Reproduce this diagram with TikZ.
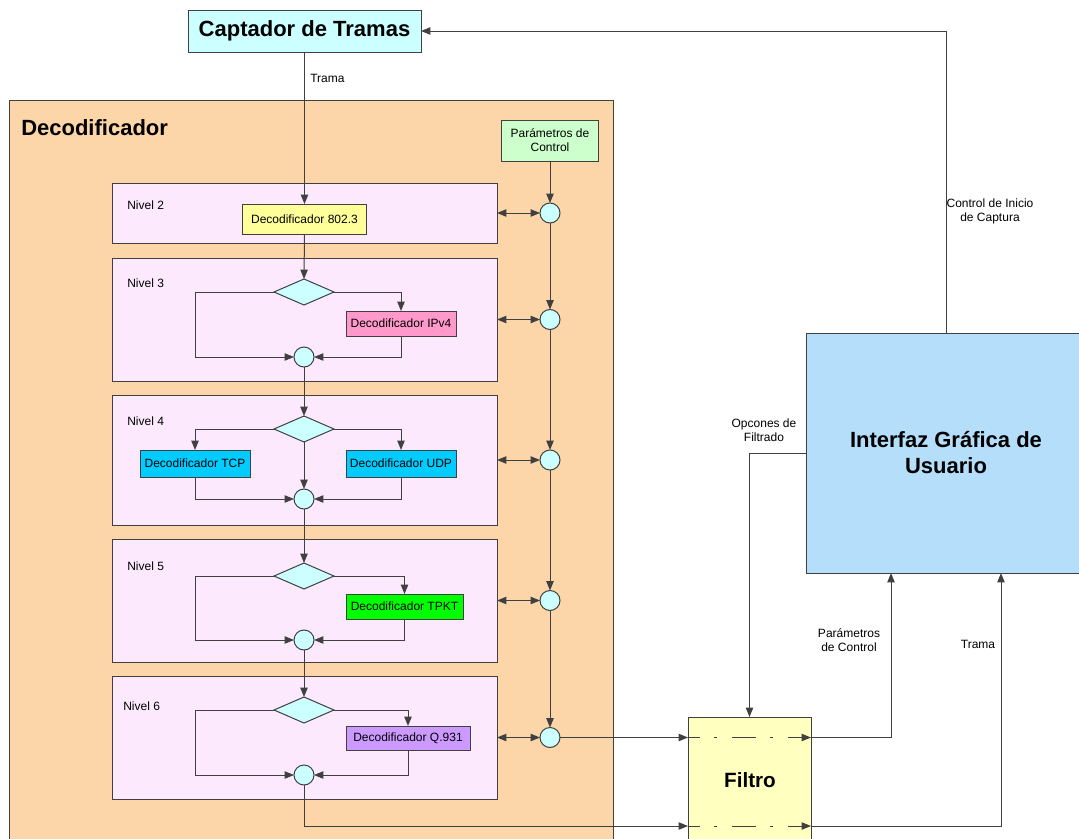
\documentclass[tikz,border=0pt]{standalone}
\usepackage{fontspec}
\setmainfont{Liberation Sans}
\usetikzlibrary{shapes.geometric,arrows.meta}
\definecolor{lc}{RGB}{64,64,64}
\definecolor{cyanl}{RGB}{204,255,255}
\definecolor{peach}{RGB}{252,213,169}
\definecolor{greenl}{RGB}{204,255,204}
\definecolor{lvlc}{RGB}{253,233,253}
\definecolor{yell}{RGB}{255,255,153}
\definecolor{pinkd}{RGB}{255,153,204}
\definecolor{bluec}{RGB}{0,204,255}
\definecolor{greenc}{RGB}{0,255,0}
\definecolor{purp}{RGB}{204,153,255}
\definecolor{filtc}{RGB}{255,255,192}
\definecolor{guic}{RGB}{181,222,250}
\tikzset{
  px/.style 2 args={minimum width=#1*0.75pt, minimum height=#2*0.75pt},
  blk/.style={draw=lc, line width=0.75pt, inner sep=0pt, outer sep=0pt},
  lvl/.style={blk, fill=lvlc},
  decb/.style={blk, font=\fontsize{9}{10.5}\selectfont},
  junc/.style={circle, draw=lc, line width=0.75pt, fill=cyanl, minimum size=15pt, inner sep=0pt, outer sep=0pt},
  dia/.style={diamond, draw=lc, line width=0.75pt, fill=cyanl, minimum width=45pt, minimum height=19.5pt, inner sep=0pt, outer sep=0pt},
  con/.style={draw=lc, line width=0.75pt},
  arr/.style={con, -{Triangle[length=7pt,width=5.5pt]}},
  darr/.style={con, {Triangle[length=7pt,width=5.5pt]}-{Triangle[length=7pt,width=5.5pt]}},
  dd/.style={arr, dash pattern=on 18pt off 10.5pt on 2.25pt off 11.25pt, dash phase=9pt},
  lbl/.style={font=\fontsize{9}{10.5}\selectfont, align=center, inner sep=0pt},
  big/.style={font=\fontsize{16.5}{19.5}\selectfont\bfseries, align=center},
}
\begin{document}
\begin{tikzpicture}[x=0.75pt,y=-0.75pt]
\useasboundingbox (0,0) rectangle (1079,839);
% containers
\node[blk, fill=peach, px={604}{750}] (outer) at (311,475) {};
\node[big, anchor=west, inner sep=0pt] (outerlbl) at (21,128) {Decodificador};
\node[blk, fill=cyanl, px={233}{42}, big] (cap) at (304.5,31) {Captador de Tramas};
\node[blk, fill=greenl, px={97}{41}, lbl] (param) at (550,140.5) {Parámetros de\\Control};
% levels
\node[lvl, px={385}{60}] (n2) at (304.5,213) {};
\node[lvl, px={385}{123}] (n3) at (304.5,319.5) {};
\node[lvl, px={385}{130}] (n4) at (304.5,460) {};
\node[lvl, px={385}{123}] (n5) at (304.5,600.5) {};
\node[lvl, px={385}{123}] (n6) at (304.5,737.5) {};
\node[lbl, anchor=west] (n2l) at (127,205) {Nivel 2};
\node[lbl, anchor=west] (n3l) at (127,283) {Nivel 3};
\node[lbl, anchor=west] (n4l) at (127,421) {Nivel 4};
\node[lbl, anchor=west] (n5l) at (127,566) {Nivel 5};
\node[lbl, anchor=west] (n6l) at (123,706) {Nivel 6};
% decoders
\node[decb, fill=yell, px={124}{30}] (d8023) at (304.5,219) {Decodificador 802.3};
\node[decb, fill=pinkd, px={110}{25}] (ipv4) at (401,323.5) {Decodificador IPv4};
\node[decb, fill=bluec, px={110}{27}] (tcp) at (195,463.5) {Decodificador TCP};
\node[decb, fill=bluec, px={110}{27}] (udp) at (401,463.5) {Decodificador UDP};
\node[decb, fill=greenc, px={117}{25}] (tpkt) at (404.5,606.5) {Decodificador TPKT};
\node[decb, fill=purp, px={124}{24}] (q931) at (408,738) {Decodificador Q.931};
% diamonds and junctions
\node[dia] (dia3) at (304,292) {};
\node[dia] (dia4) at (304,429) {};
\node[dia] (dia5) at (304,576) {};
\node[dia] (dia6) at (304,710) {};
\node[junc] (m3) at (304,357) {};
\node[junc] (m4) at (304,499) {};
\node[junc] (m5) at (304,640) {};
\node[junc] (m6) at (304,775) {};
\node[junc] (c2) at (550,213) {};
\node[junc] (c3) at (550,319.5) {};
\node[junc] (c4) at (550,460) {};
\node[junc] (c5) at (550,600.5) {};
\node[junc] (c6) at (550,737.5) {};
% filter and GUI
\node[blk, fill=filtc, px={123}{133}] (filt) at (749.5,783.5) {};
\node[font=\fontsize{15.5}{18}\selectfont\bfseries, inner sep=0pt] (filtl) at (750,780) {Filtro};
\node[blk, fill=guic, px={280}{240}, big] (gui) at (946,453) {Interfaz Gráfica de\\Usuario};
\coordinate (fin1) at (filt.west |- c6);
\coordinate (fout1) at (filt.east |- c6);
\coordinate (fin2) at (688,826);
\coordinate (fout2) at (811,826);
\coordinate (gin1) at (891,573);
\coordinate (gin2) at (1001,573);
% main flow
\draw[arr] (cap.south) -- (d8023.north);
\node[lbl, anchor=west] (tramal) at (310,78) {Trama};
\draw[arr] (d8023.south) -- (dia3.north);
\draw[arr] (dia3.east) -| (ipv4.north);
\draw[arr] (dia3.west) -| (195,357) -- (m3.west);
\draw[arr] (ipv4.south) |- (m3.east);
\draw[arr] (m3.south) -- (dia4.north);
\draw[arr] (dia4.west) -| (tcp.north);
\draw[arr] (dia4.east) -| (udp.north);
\draw[arr] (dia4.south) -- (m4.north);
\draw[arr] (tcp.south) |- (m4.west);
\draw[arr] (udp.south) |- (m4.east);
\draw[arr] (m4.south) -- (dia5.north);
\draw[arr] (dia5.east) -| (tpkt.north);
\draw[arr] (dia5.west) -| (195,640) -- (m5.west);
\draw[arr] (tpkt.south) |- (m5.east);
\draw[arr] (m5.south) -- (dia6.north);
\draw[arr] (dia6.east) -| (q931.north);
\draw[arr] (dia6.west) -| (195,775) -- (m6.west);
\draw[arr] (q931.south) |- (m6.east);
% control chain
\draw[arr] (param.south) -- (c2.north);
\draw[arr] (c2.south) -- (c3.north);
\draw[arr] (c3.south) -- (c4.north);
\draw[arr] (c4.south) -- (c5.north);
\draw[arr] (c5.south) -- (c6.north);
\draw[darr] (n2.east) -- (c2.west);
\draw[darr] (n3.east) -- (c3.west);
\draw[darr] (n4.east) -- (c4.west);
\draw[darr] (n5.east) -- (c5.west);
\draw[darr] (n6.east) -- (c6.west);
% to filter
\draw[arr] (c6.east) -- (fin1);
\draw[arr] (m6.south) |- (fin2);
\draw[dd] (fin1) -- (fout1);
\draw[dd] (fin2) -- (fout2);
\draw[arr] (fout1) -| (gin1);
\draw[arr] (fout2) -| (gin2);
\node[lbl] (pcl) at (849,640) {Parámetros\\de Control};
\node[lbl] (tr2) at (978,644) {Trama};
\draw[arr] (gui.west) -| (filt.north);
\node[lbl] (ofl) at (764,430) {Opcones de\\Filtrado};
\draw[arr] (gui.north) |- (cap.east);
\node[lbl] (cic) at (990,211) {Control de Inicio\\de Captura};
\end{tikzpicture}
\end{document}
